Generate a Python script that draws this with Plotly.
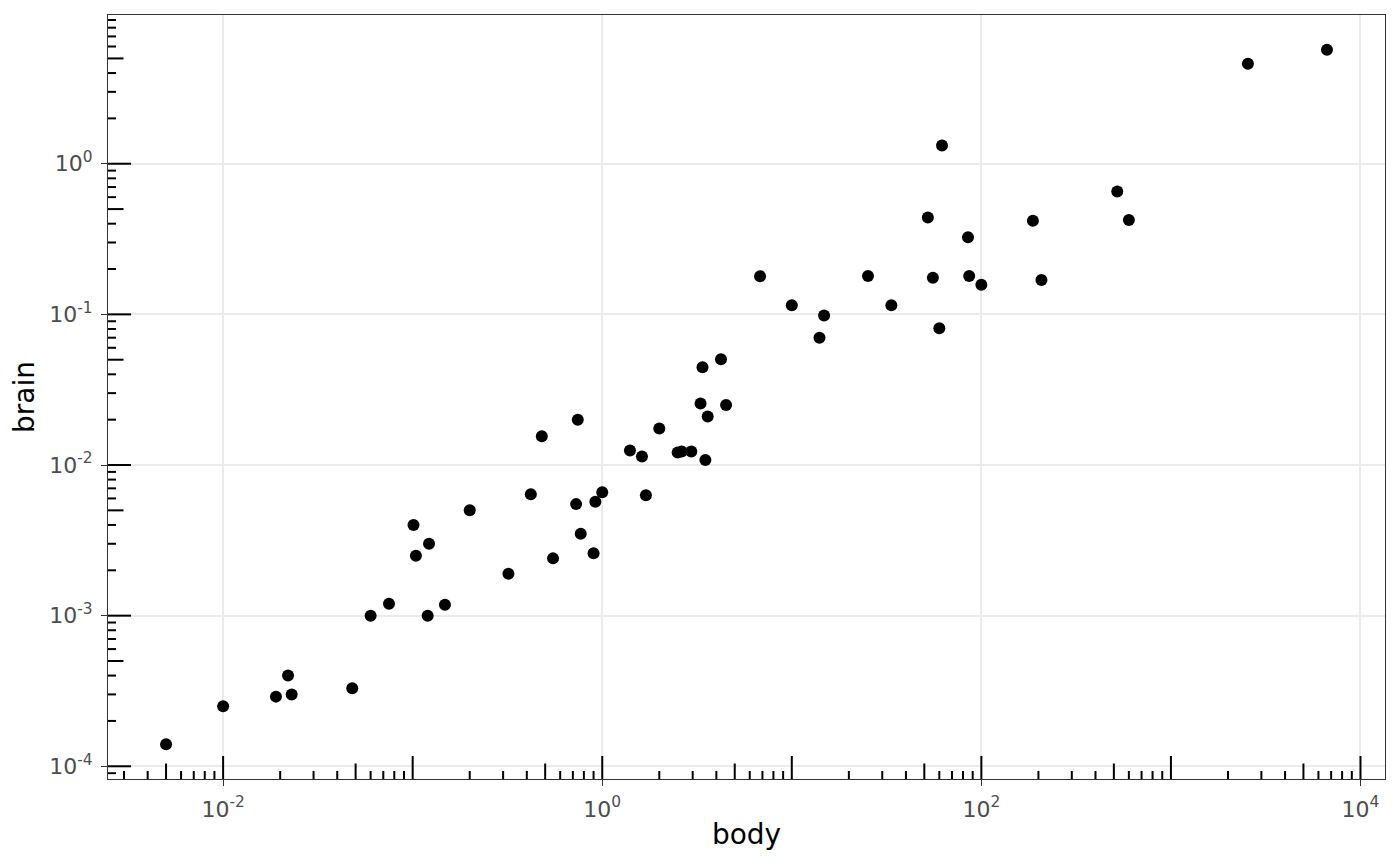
import math
import plotly.graph_objects as go

# msleep: body weight (kg) and brain weight (kg)
body = [0.005, 0.01, 0.019, 0.022, 0.023, 0.048, 0.06, 0.075, 0.101, 0.104,
        0.122, 0.12, 0.148, 0.2, 0.32, 0.42, 0.48, 0.55, 0.728, 0.743,
        0.77, 0.9, 0.92, 1.0, 1.4, 1.62, 1.7, 2.0, 2.5, 2.625,
        2.95, 3.3, 3.38, 3.5, 3.6, 4.23, 4.5, 6.8, 10.0, 14.0,
        14.8, 25.235, 33.5, 52.2, 55.5, 60.0, 62.0, 85.0, 86.25, 100.0,
        187.0, 207.501, 521.0, 600.0, 2547.0, 6654.0]
brain = [0.00014, 0.00025, 0.00029, 0.0004, 0.0003, 0.00033, 0.001, 0.0012, 0.004, 0.0025,
         0.003, 0.001, 0.00118, 0.005, 0.0019, 0.0064, 0.0155, 0.0024, 0.0055, 0.02,
         0.0035, 0.0026, 0.0057, 0.0066, 0.0125, 0.0114, 0.0063, 0.0175, 0.0121, 0.01227,
         0.0123, 0.0256, 0.0445, 0.0108, 0.021, 0.0504, 0.025, 0.179, 0.115, 0.07,
         0.0982, 0.18, 0.115, 0.44, 0.175, 0.081, 1.32, 0.325, 0.18, 0.157,
         0.419, 0.169, 0.655, 0.423, 4.603, 5.712]

x_tickvals = [1e-2, 1e0, 1e2, 1e4]
x_ticktext = ["10<sup>-2</sup>", "10<sup>0</sup>", "10<sup>2</sup>", "10<sup>4</sup>"]
y_tickvals = [1e-4, 1e-3, 1e-2, 1e-1, 1e0]
y_ticktext = ["10<sup>-4</sup>", "10<sup>-3</sup>", "10<sup>-2</sup>", "10<sup>-1</sup>", "10<sup>0</sup>"]

# page body has an 8px margin, so the figure is sized/offset to compensate
W, H = 1392, 858
ML, MR, MT, MB = 100, 15, 7, 87
PW, PH = W - ML - MR, H - MT - MB


def expanded(vals):
    lo, hi = math.log10(min(vals)), math.log10(max(vals))
    pad = (hi - lo) * 0.05
    return [lo - pad, hi + pad]


xr = expanded(body)
yr = expanded(brain)

fig = go.Figure()
fig.add_trace(go.Scatter(x=body, y=brain, mode="markers",
                         marker=dict(color="black", size=12, line=dict(width=0)),
                         showlegend=False))

# annotation_logticks-like ticks (bottom and left)
LONG, MID, SHORT = 23, 15.5, 8
shapes = []


def tick_len(m):
    return LONG if m == 1 else (MID if m == 5 else SHORT)


for d in range(math.floor(xr[0]), math.ceil(xr[1]) + 1):
    for m in range(1, 10):
        v = m * 10 ** d
        lv = math.log10(v)
        if xr[0] <= lv <= xr[1]:
            shapes.append(dict(type="line", xref="x", yref="paper",
                               x0=v, x1=v, y0=0, y1=tick_len(m) / PH,
                               line=dict(color="black", width=2)))
for d in range(math.floor(yr[0]), math.ceil(yr[1]) + 1):
    for m in range(1, 10):
        v = m * 10 ** d
        lv = math.log10(v)
        if yr[0] <= lv <= yr[1]:
            shapes.append(dict(type="line", xref="paper", yref="y",
                               x0=0, x1=tick_len(m) / PW, y0=v, y1=v,
                               line=dict(color="black", width=2)))

axis_common = dict(
    type="log", showline=True, mirror=True, linecolor="#333333", linewidth=1.2,
    ticks="outside", ticklen=6, tickwidth=1.2, tickcolor="#333333",
    showgrid=True, gridcolor="#EBEBEB", gridwidth=2, zeroline=False,
    tickfont=dict(family="DejaVu Sans", size=22, color="#4D4D4D"),
    ticklabelstandoff=4,
    automargin=False,
)

fig.update_layout(
    width=W, height=H,
    margin=dict(l=ML, r=MR, t=MT, b=MB),
    paper_bgcolor="white", plot_bgcolor="white",
    xaxis=dict(axis_common, range=xr, tickmode="array", tickvals=x_tickvals, ticktext=x_ticktext,
               title=dict(text="body", font=dict(family="DejaVu Sans", size=28, color="black"), standoff=3)),
    yaxis=dict(axis_common, range=yr, tickmode="array", tickvals=y_tickvals, ticktext=y_ticktext,
               title=dict(text="brain", font=dict(family="DejaVu Sans", size=28, color="black"), standoff=6)),
    shapes=shapes,
)

fig.write_html("out.html")
